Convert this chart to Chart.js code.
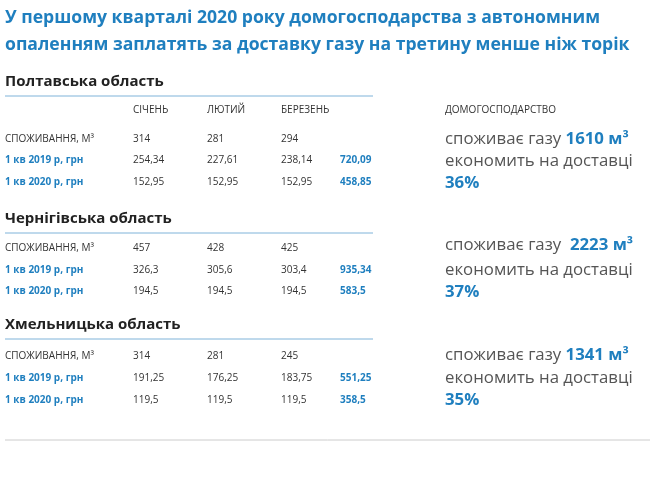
<!DOCTYPE html>
<html><head><meta charset="utf-8">
<script src="https://cdn.jsdelivr.net/npm/chart.js@4"></script>
<style>body{margin:0;background:#fff}#wrap{width:650px;height:487px}</style>
</head><body><div id="wrap"><canvas id="c"></canvas></div>
<script>
// дані
const titleLines = ['У першому кварталі 2020 року домогосподарства з автономним', 'опаленням заплатять за доставку газу на третину менше ніж торік'];
const regions = ['Полтавська область', 'Чернігівська область', 'Хмельницька область'];
const months = ['СІЧЕНЬ', 'ЛЮТИЙ', 'БЕРЕЗЕНЬ'];
const rowLabels = ['СПОЖИВАННЯ, М³', '1 кв 2019 р, грн', '1 кв 2020 р, грн'];
const consumption = [['314', '281', '294'], ['457', '428', '425'], ['314', '281', '245']];
const cost2019 = [['254,34', '227,61', '238,14'], ['326,3', '305,6', '303,4'], ['191,25', '176,25', '183,75']];
const cost2020 = [['152,95', '152,95', '152,95'], ['194,5', '194,5', '194,5'], ['119,5', '119,5', '119,5']];
const total2019 = ['720,09', '935,34', '551,25'];
const total2020 = ['458,85', '583,5', '358,5'];
const yearly = ['1610', '2223', '1341'];
const savings = ['36%', '37%', '35%'];

// розмітка
const BLUE = '#1f7fbf', DARK = '#333', GREY = '#555';
const blocks = [
  { title: 82, rows: [139, 160, 182], right: [139, 161, 183] },
  { title: 219, rows: [248, 270, 291], right: [245, 270, 292] },
  { title: 325, rows: [356, 378, 400], right: [355, 378, 400] }
];
const colX = [133, 207, 281];

const tablePlugin = {
  id: 'table',
  afterDraw(chart) {
    const c = chart.ctx, xs = chart.scales.x, ys = chart.scales.y;
    const X = v => xs.getPixelForValue(v), Y = v => ys.getPixelForValue(v);
    c.save();
    c.textBaseline = 'middle';
    c.fillStyle = BLUE;
    c.font = 'bold 17.6px "Open Sans"';
    c.fillText(titleLines[0], X(5), Y(18));
    c.fillText(titleLines[1], X(5), Y(45));

    c.fillStyle = DARK;
    c.font = '10px "Open Sans"';
    months.forEach((m, i) => c.fillText(m, X(colX[i]), Y(110)));
    c.fillText('ДОМОГОСПОДАРСТВО', X(445), Y(110));

    blocks.forEach((b, r) => {
      c.fillStyle = '#222';
      c.font = 'bold 15px "Open Sans"';
      c.fillText(regions[r], X(5), Y(b.title));
      c.strokeStyle = '#7fb3d9'; c.lineWidth = 1;
      c.beginPath(); c.moveTo(X(5), Y(b.title + 14)); c.lineTo(X(373), Y(b.title + 14)); c.stroke();

      const vals = [consumption[r], cost2019[r], cost2020[r]];
      const tots = [null, total2019[r], total2020[r]];
      rowLabels.forEach((lab, k) => {
        c.textAlign = 'left';
        c.fillStyle = k === 0 ? DARK : BLUE;
        c.font = k === 0 ? '10px "Open Sans"' : 'bold 10px "Open Sans"';
        c.fillText(lab, X(5), Y(b.rows[k]));
        c.fillStyle = DARK; c.font = '10px "Open Sans"';
        vals[k].forEach((v, i) => c.fillText(v, X(colX[i]), Y(b.rows[k])));
        if (tots[k]) {
          c.fillStyle = BLUE; c.font = 'bold 10px "Open Sans"';
          c.fillText(tots[k], X(340), Y(b.rows[k]));
        }
      });

      c.textAlign = 'left';
      c.font = '16.8px "Open Sans"'; c.fillStyle = GREY;
      const pre = 'споживає газу ' + (r === 1 ? ' ' : '');
      c.fillText(pre, X(445), Y(b.right[0]));
      let w = c.measureText(pre).width;
      c.fillStyle = BLUE; c.font = 'bold 16.8px "Open Sans"';
      c.fillText(yearly[r] + ' м³', X(445) + w, Y(b.right[0]));
      c.fillStyle = GREY; c.font = '16.8px "Open Sans"';
      c.fillText('економить на доставці', X(445), Y(b.right[1]));
      c.fillStyle = BLUE; c.font = 'bold 16.8px "Open Sans"';
      c.fillText(savings[r], X(445), Y(b.right[2]));
    });

    c.strokeStyle = '#ccc';
    c.beginPath(); c.moveTo(X(5), Y(440)); c.lineTo(X(650), Y(440)); c.stroke();
    c.restore();
  }
};

new Chart(document.getElementById('c'), {
  type: 'scatter',
  data: { datasets: [{ data: [] }] },
  options: {
    responsive: true, maintainAspectRatio: false, animation: false,
    layout: { padding: 0 },
    plugins: { legend: { display: false }, tooltip: { enabled: false } },
    scales: {
      x: { type: 'linear', min: 0, max: 650, display: false },
      y: { type: 'linear', min: 0, max: 487, reverse: true, display: false }
    }
  },
  plugins: [tablePlugin]
});
</script></body></html>
